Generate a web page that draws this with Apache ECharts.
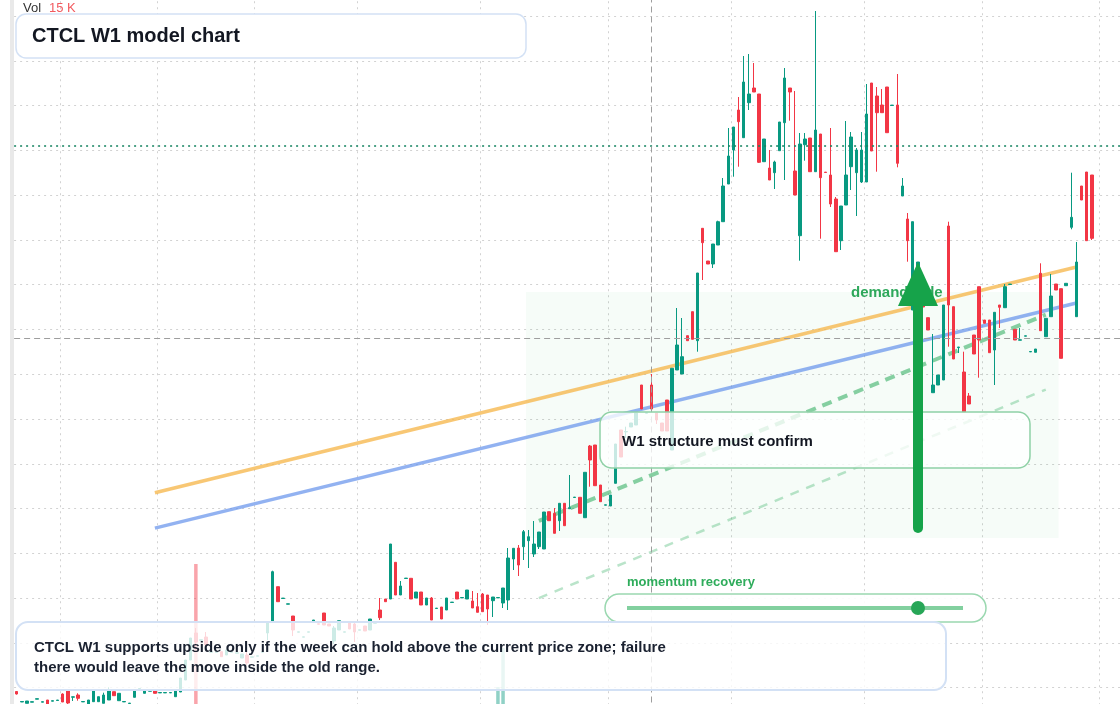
<!DOCTYPE html>
<html>
<head>
<meta charset="utf-8">
<title>CTCL W1 model chart</title>
<script src="https://cdn.jsdelivr.net/npm/echarts@6/dist/echarts.min.js"></script>
<style>
  html, body { margin: 0; padding: 0; background: #fff; overflow: hidden; }
  /* the price pane runs a little past the top and bottom edge of the window */
  #chart { position: absolute; left: 0; top: -29px; width: 1120px; height: 762px; }
</style>
</head>
<body>
<div id="chart"></div>
<script>
// weekly candles, one row per week: [open, close, low, high]
const candles = [
  [41, 38.5, 38, 41.5], [30.5, 31, 30.5, 31], [29.2, 31.5, 29.2, 31.5], [30.3, 30.8, 30.3, 30.8], [33.3, 33.8, 33.3, 33.8],
  [30.3, 30.8, 30.3, 30.8], [32.5, 28.5, 28.5, 32.5], [31.3, 31.8, 31.3, 31.8], [32, 32.5, 32, 32.5], [38.5, 30.5, 30.5, 39.2],
  [41.8, 29.5, 27.5, 42.5], [35.3, 35.7, 31.5, 35.7], [37.5, 34.2, 31.8, 39.2], [30.6, 31, 30.6, 31], [28.5, 32.5, 28.5, 32.5],
  [30.8, 41.5, 30.8, 42.5], [30.8, 35.8, 30.8, 35.8], [29.2, 37.5, 29.2, 39.8], [32.5, 42.5, 32.5, 45.2], [40.8, 36.8, 36.8, 40.8],
  [31.8, 39.2, 31.8, 39.2], [30.6, 31, 30.6, 31], [29, 29.4, 29, 29.4], [35.2, 41.8, 35.2, 41.8], [43.6, 44, 43.6, 44],
  [39.2, 42.5, 39.2, 42.5], [41.3, 41.7, 41.3, 41.7], [41.5, 39.2, 39.2, 41.5], [39.6, 40, 39.6, 40], [39.6, 40, 39.6, 40],
  [39.6, 40, 39.6, 40], [35.8, 42.5, 35.8, 42.5], [40.5, 54.5, 40.5, 54.5], [52.5, 72.5, 52.5, 72.5], [72.5, 94.5, 72.5, 94.5],
  [99.5, 90.5, 82.5, 104.5], [92.3, 92.7, 92.3, 92.7], [95.5, 87.5, 84.5, 100.5], [80.3, 80.7, 80.3, 80.7], [80.2, 80.6, 80.2, 80.6],
  [80.8, 75.8, 75.8, 80.8], [77.5, 82.5, 77.5, 82.5], [80.3, 80.7, 80.3, 80.7], [79.3, 79.7, 79.3, 79.7], [74.5, 78.5, 74.5, 78.5],
  [77.5, 69.5, 67.5, 82.5], [75.3, 75.7, 75.3, 75.7], [76.3, 76.7, 76.3, 76.7], [80.3, 80.7, 80.3, 80.7], [99.5, 109.5, 92.5, 109.5],
  [110.5, 160.8, 110.5, 161.8], [145.8, 130.8, 130.8, 145.8], [134, 134.4, 134, 134.4], [128.3, 128.7, 128.3, 128.7], [116.5, 102.5, 96.5, 116.5],
  [100.3, 100.7, 100.3, 100.7], [95.3, 95.7, 95.3, 95.7], [100.3, 100.7, 100.3, 100.7], [110.8, 112.5, 110.8, 112.5], [108.7, 108.3, 108.3, 108.7],
  [119.5, 107.5, 107.5, 119.5], [108.5, 106.5, 106.5, 108.5], [91.5, 104.5, 88.5, 106.5], [102.5, 111.8, 102.5, 111.8], [100.3, 100.7, 100.3, 100.7],
  [109.5, 103.5, 103.5, 109.5], [108.5, 100.5, 90.5, 110.5], [102.3, 102.7, 102.3, 102.7], [106.5, 101.5, 101.5, 106.5], [102.5, 113.5, 102.5, 113.5],
  [109.3, 109.7, 109.3, 109.7], [122.5, 114.8, 112.5, 134.5], [133.5, 130.8, 130.8, 133.5], [133.5, 188.5, 133.5, 188.5], [170.2, 137.5, 137.5, 170.2],
  [137.5, 146.5, 137.5, 151.5], [154, 154.4, 154, 154.4], [154.2, 133.5, 133.5, 154.2], [134.5, 140.5, 134.5, 140.5], [140.5, 127.5, 127.5, 140.5],
  [127.5, 134.5, 127.5, 134.5], [134.5, 112.5, 112.5, 135.5], [124, 124.4, 124, 124.4], [125.5, 113.5, 113.5, 125.5], [122.5, 134.5, 122.5, 134.5],
  [130, 130.4, 130, 130.4], [140.5, 133.5, 133.5, 140.5], [134.6, 135, 134.6, 135], [133.5, 142.5, 133.5, 142.5], [131.5, 124.5, 124.5, 141.5],
  [125.8, 120.2, 120.2, 139.5], [138.5, 120.8, 120.8, 139.5], [137.5, 123.5, 107.5, 137.5], [131.8, 135.5, 115.5, 135.5], [134.6, 135, 134.6, 135],
  [129.5, 144.5, 124.5, 144.5], [132.5, 174.5, 122.5, 184.5], [173.5, 184.2, 162.5, 184.2], [184.5, 167.5, 156.5, 187.5], [185.8, 200.8, 172.5, 202.5],
  [191.8, 195.8, 164.5, 202.5], [178.5, 188.5, 175.5, 211.5], [185.8, 200.5, 183.5, 200.5], [183.5, 220.5, 183.5, 220.5], [220.8, 211.8, 211.8, 220.8],
  [219.2, 199.2, 199.2, 224.5], [211.8, 229.2, 201.5, 229.2], [229.2, 206.8, 206.8, 229.2], [223.8, 224.8, 223.8, 257.5], [235, 235.4, 235, 235.4],
  [235.2, 219.2, 219.2, 235.2], [214.8, 260.2, 214.8, 260.2], [286.5, 272.5, 245.8, 287.5], [287.5, 246.8, 246.8, 287.5], [247.5, 230.8, 230.8, 247.5],
  [227.3, 227.7, 227.3, 227.7], [226.5, 237.5, 226.5, 237.5], [249.2, 288.5, 249.2, 288.5], [302.5, 275.5, 275.5, 302.5], [300.6, 301, 294.5, 305.8],
  [305.5, 309.5, 305.5, 309.5], [307.5, 319.5, 307.5, 319.5], [347.5, 323.5, 323.5, 347.5], [319.3, 319.7, 319.3, 319.7], [347.5, 323.5, 323.5, 358.5],
  [319.5, 312.5, 308.5, 319.5], [309.5, 301.5, 301.5, 309.5], [332.5, 301.5, 301.5, 332.5], [282.5, 364.2, 282.5, 364.2], [362.5, 387.5, 362.5, 424.5],
  [358.5, 375.8, 358.5, 414.5], [396.8, 391.8, 391.8, 396.8], [420.8, 393.2, 393.2, 420.8], [391.8, 459.5, 380.8, 459.5], [504.2, 489.8, 452.5, 504.2],
  [471.5, 468.5, 468.5, 471.5], [468.5, 488.5, 464.5, 488.5], [487.5, 510.8, 487.5, 511.8], [510.8, 546.5, 510.8, 554.5], [548.5, 576.5, 548.5, 604.5],
  [582.5, 605.5, 555.8, 605.5], [622.5, 610.8, 565.8, 635.5], [594.8, 650.5, 594.8, 676.5], [629.8, 638.5, 622.5, 678.5], [644.5, 640.5, 640.5, 669.5],
  [638.5, 570.2, 569.5, 638.5], [570.8, 593.5, 570.8, 593.5], [564.5, 552.5, 552.5, 582.5], [559.8, 570.5, 543.5, 571.8], [581.8, 610.5, 581.8, 610.5],
  [609.8, 654.5, 552.5, 664.5], [644.5, 640.5, 611.8, 644.5], [561.5, 537.5, 537.5, 641.5], [496.8, 588.5, 471.8, 599.5], [587.8, 593.5, 571.8, 599.5],
  [594.5, 560.8, 560.8, 594.5], [560.8, 602.5, 560.8, 721.5], [598.5, 554.8, 493.8, 598.5], [560.4, 560, 560, 560.4], [557.5, 528.5, 525.5, 604.5],
  [533.5, 480.8, 480.8, 535.5], [491.8, 526.5, 482.5, 526.5], [527.5, 557.5, 527.5, 611.5], [565.8, 595.5, 542.5, 600.5], [559.8, 582.5, 516.5, 584.5],
  [550.5, 582.5, 549.5, 600.5], [550.5, 618.5, 550.5, 648.5], [649.5, 581.5, 581.5, 649.5], [636.5, 619.8, 560.8, 645.5], [627.5, 619.8, 619.8, 643.5],
  [645.5, 599.8, 599.8, 645.5], [627, 627.4, 627, 627.4], [627.5, 569.2, 565.2, 658.5], [536.5, 546.5, 536.5, 554.5], [513.5, 491.8, 470.8, 519.5],
  [422.5, 510.8, 422.5, 510.8], [432.5, 470.5, 432.5, 470.5], [427.5, 425.5, 425.5, 427.5], [414.8, 402.5, 402.5, 414.8], [339.8, 347.5, 339.8, 398.5],
  [347.5, 357.5, 347.5, 357.5], [352.5, 427.5, 352.5, 427.5], [506.5, 427.5, 385.8, 510.8], [425.8, 373.5, 373.5, 425.8], [384.9, 385.5, 379.5, 385.5],
  [360.5, 320.5, 320.5, 380.8], [336.5, 328.5, 328.5, 339.5], [397.5, 378.5, 378.5, 397.5], [445.8, 392.5, 354.8, 445.8], [412.5, 409.2, 409.2, 412.5],
  [412.5, 379.8, 379.8, 412.5], [382.5, 420.2, 347.5, 420.2], [427.5, 425.2, 404.5, 427.5], [424.8, 445.8, 424.8, 448.5], [448, 448.4, 448, 448.4],
  [403.2, 392.5, 392.5, 403.2], [392.3, 392.7, 392.3, 404.5], [396.3, 396.7, 396.3, 396.7], [380.6, 381, 380.6, 381], [380.2, 383.5, 380.2, 383.5],
  [459.2, 401.8, 401.8, 469.2], [395.8, 414.2, 395.8, 414.2], [415.8, 436.5, 415.8, 458.5], [448.5, 442.5, 442.5, 448.5], [443.8, 374.2, 374.2, 443.8],
  [446.8, 449.2, 446.8, 449.2], [505.2, 515.2, 503.2, 559.8], [415.8, 470.5, 415.8, 490.5], [546.5, 532.5, 532.5, 546.5], [560.5, 491.8, 491.8, 560.5],
  [557.5, 494.2, 492.5, 557.5]
];

// weekly volume in K
const volumes = [
  5, 4, 6, 4, 5, 4, 6, 5, 4, 7,
  9, 5, 7, 4, 6, 10, 6, 8, 11, 7,
  8, 4, 5, 9, 5, 7, 5, 6, 4, 4,
  5, 9, 14, 18, 22, 168.5, 16, 19, 10, 9,
  12, 10, 8, 7, 9, 13, 8, 7, 9, 17,
  26, 18, 10, 9, 14, 8, 7, 8, 9, 8,
  12, 7, 11, 10, 7, 9, 12, 7, 8, 11,
  8, 13, 9, 24, 19, 12, 9, 15, 10, 13,
  10, 16, 9, 13, 12, 8, 11, 8, 12, 10,
  9, 13, 14, 11, 45.5, 84.5, 22, 14, 15, 17,
  12, 13, 14, 18, 12, 15, 14, 16, 11, 9,
  13, 21, 17, 20, 14, 9, 12, 19, 16, 10,
  11, 13, 18, 9, 15, 12, 11, 16, 24, 19,
  17, 11, 18, 23, 17, 12, 14, 16, 20, 21,
  19, 15, 24, 18, 13, 22, 17, 14, 13, 18,
  22, 14, 20, 25, 12, 16, 23, 21, 9, 17,
  20, 17, 19, 18, 15, 14, 21, 22, 16, 12,
  17, 9, 20, 12, 15, 23, 19, 10, 14, 16,
  12, 21, 24, 20, 11, 18, 10, 13, 19, 9,
  15, 17, 11, 14, 8, 12, 9, 8, 9, 10,
  18, 14, 15, 11, 19, 9, 16, 20, 13, 21, 20
];

const padWeeks = 5;                       // empty space right of the last candle
const gridWeeks = [9, 28, 47, 67, 91, 116, 140, 166, 189, 212];
const cursorWeek = 124;
const cursorPrice = 394.5;
const keyLevel = 587;
const orangeTrend = [[27, 239.8], [207, 465.5]];
const blueTrend = [[27, 204.4], [207, 429.5]];
const momentumTrend = [[102, 211.6], [201, 417.8]];
const lowerTrend = [[102, 134.4], [201, 342.9]];
const demandZone = { from: 100, to: 201, low: 194.5, high: 440.5 };

const UP = '#089981';
const DOWN = '#f23645';
const FONT = '"Liberation Sans", Arial, sans-serif';
const PAGE_SHIFT = 29;                    // chart div starts 29px above the window

const weeks = [];
for (let i = 0; i < candles.length + padWeeks; i++) weeks.push('W' + (i + 1));

const volData = volumes.map((v, i) => ({
  value: v,
  itemStyle: { color: candles[i][1] >= candles[i][0] ? 'rgba(8,153,129,0.45)' : 'rgba(242,54,69,0.45)' }
}));

const trend = (data, style) => ({
  type: 'line', data: data, z: 2, silent: true, symbol: 'none', showSymbol: false,
  lineStyle: style
});

const chart = echarts.init(document.getElementById('chart'));

const option = {
  animation: false,
  backgroundColor: '#ffffff',
  grid: { left: 14.1, right: 0, top: 0.22, bottom: 0.5, show: false },
  xAxis: {
    type: 'category',
    data: weeks,
    boundaryGap: true,
    axisLine: { show: false },
    axisTick: { show: false },
    axisLabel: { show: false },
    splitLine: {
      show: true,
      interval: (i) => gridWeeks.indexOf(i) >= 0,
      lineStyle: { type: [2, 4], color: '#d2d2d2', width: 1 }
    }
  },
  yAxis: [
    {
      type: 'value', min: 0, max: 761.28, interval: 44.78,
      axisLine: { show: false }, axisTick: { show: false }, axisLabel: { show: false },
      splitLine: { show: true, lineStyle: { type: [2, 4], color: '#d2d2d2', width: 1 } }
    },
    { type: 'value', min: 0, max: 761.28, show: false, splitLine: { show: false } }
  ],
  series: [
    {
      type: 'bar', name: 'Vol', yAxisIndex: 1, data: volData, barWidth: 3.5, z: 1, silent: true,
      markArea: {
        silent: true,
        itemStyle: { color: 'rgba(34,170,85,0.04)' },
        data: [[
          { xAxis: weeks[demandZone.from], yAxis: demandZone.high },
          { xAxis: weeks[demandZone.to], yAxis: demandZone.low }
        ]]
      }
    },
    trend(orangeTrend, { color: 'rgba(245,180,70,0.75)', width: 3.5 }),
    trend(blueTrend, { color: 'rgba(100,145,235,0.7)', width: 3.5 }),
    trend(momentumTrend, { color: 'rgba(40,170,90,0.55)', width: 4, type: [10, 7] }),
    trend(lowerTrend, { color: 'rgba(40,170,90,0.32)', width: 2.5, type: [9, 8] }),
    {
      type: 'candlestick', name: 'CTCL', data: candles, z: 3, barWidth: 3,
      itemStyle: { color: UP, color0: DOWN, borderColor: UP, borderColor0: DOWN, borderWidth: 1 },
      markLine: {
        silent: true, symbol: 'none', label: { show: false },
        data: [
          { yAxis: keyLevel, lineStyle: { type: [2, 4], color: '#13825f', width: 1.5 } },
          { yAxis: cursorPrice, lineStyle: { type: [6, 4], color: '#9e9e9e', width: 1 } },
          { xAxis: weeks[cursorWeek], lineStyle: { type: [6, 4], color: '#9e9e9e', width: 1 } }
        ]
      }
    }
  ],
  graphic: [{
    type: 'group', x: 0, y: PAGE_SHIFT, z: 100,
    children: [
      { type: 'rect', z: 90, shape: { x: 10, y: -PAGE_SHIFT, width: 4, height: 770 }, style: { fill: '#e9e9e9' } },
      { type: 'text', z: 100, x: 23, y: 8, style: { text: 'Vol', font: '13px ' + FONT, fill: '#333', verticalAlign: 'middle' } },
      { type: 'text', z: 100, x: 49, y: 8, style: { text: '15 K', font: '13px ' + FONT, fill: '#f25a5f', verticalAlign: 'middle' } },

      { type: 'rect', z: 100, shape: { x: 16, y: 14, width: 510, height: 44, r: 10 },
        style: { fill: '#ffffff', stroke: '#d3e1f5', lineWidth: 1.5 } },
      { type: 'text', z: 101, x: 32, y: 36, style: { text: 'CTCL W1 model chart', font: 'bold 20px ' + FONT, fill: '#131722', verticalAlign: 'middle' } },

      { type: 'rect', z: 100, shape: { x: 600, y: 412, width: 430, height: 56, r: 12 },
        style: { fill: 'rgba(255,255,255,0.78)', stroke: '#8fd1a6', lineWidth: 1.5 } },
      { type: 'text', z: 101, x: 622, y: 442, style: { text: 'W1 structure must confirm', font: 'bold 15px ' + FONT, fill: '#131722', verticalAlign: 'middle' } },

      { type: 'text', z: 101, x: 627, y: 582, style: { text: 'momentum recovery', font: 'bold 13px ' + FONT, fill: '#2eac5b', verticalAlign: 'middle' } },
      { type: 'rect', z: 100, shape: { x: 605, y: 594, width: 381, height: 28, r: 14 },
        style: { fill: 'rgba(255,255,255,0.9)', stroke: '#9ad8b0', lineWidth: 1.5 } },
      { type: 'line', z: 101, shape: { x1: 627, y1: 608, x2: 963, y2: 608 }, style: { stroke: '#82d09f', lineWidth: 4 } },
      { type: 'circle', z: 102, shape: { cx: 918, cy: 608, r: 7 }, style: { fill: '#27a657' } },

      { type: 'rect', z: 100, shape: { x: 16, y: 622, width: 930, height: 68, r: 12 },
        style: { fill: 'rgba(255,255,255,0.8)', stroke: '#d3e1f5', lineWidth: 2 } },
      { type: 'text', z: 101, x: 34, y: 648, style: { text: 'CTCL W1 supports upside only if the week can hold above the current price zone; failure', font: 'bold 15px ' + FONT, fill: '#1a2130', verticalAlign: 'middle' } },
      { type: 'text', z: 101, x: 34, y: 668, style: { text: 'there would leave the move inside the old range.', font: 'bold 15px ' + FONT, fill: '#1a2130', verticalAlign: 'middle' } },

      { type: 'text', z: 103, x: 851, y: 293, style: { text: 'demand side', font: 'bold 15px ' + FONT, fill: '#2ea85b', verticalAlign: 'middle' } },
      { type: 'line', z: 104, shape: { x1: 918, y1: 300, x2: 918, y2: 528 }, style: { stroke: '#16a34a', lineWidth: 10, lineCap: 'round' } },
      { type: 'polygon', z: 104, shape: { points: [[918, 262], [898, 306], [938, 306]] }, style: { fill: '#16a34a' } }
    ]
  }]
};

chart.setOption(option);
</script>
</body>
</html>
